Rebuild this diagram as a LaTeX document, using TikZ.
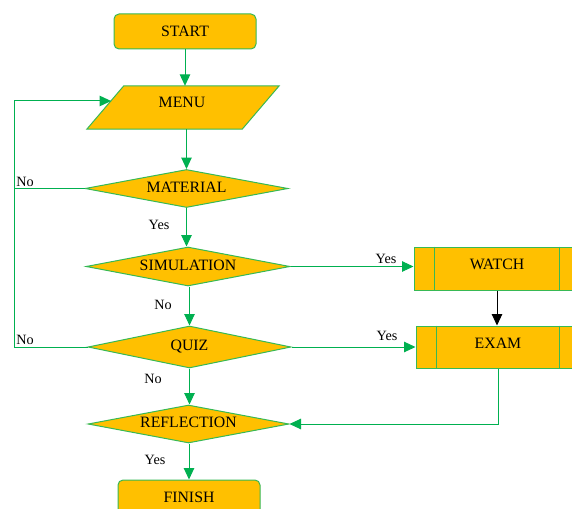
\documentclass[tikz,border=0pt]{standalone}
\usepackage{fontspec}
\setmainfont{Liberation Serif}
\usetikzlibrary{arrows.meta,shapes.geometric}
\definecolor{boxfill}{HTML}{FFC000}
\definecolor{edgecol}{RGB}{55,185,85}
\definecolor{flowcol}{HTML}{00B050}
\begin{document}
\begin{tikzpicture}[x=1pt,y=-1pt,
  shapeline/.style={draw=edgecol,fill=boxfill,line width=1pt},
  maintext/.style={font=\fontsize{15.8}{18}\selectfont},
  lbl/.style={font=\fontsize{14.2}{16}\selectfont,inner sep=0pt},
  term/.style={shapeline,maintext,rounded corners=5pt,minimum width=142pt,minimum height=35pt,inner sep=0pt},
  dec/.style={diamond,aspect=5.3,shapeline,maintext,inner sep=0pt,text height=10.5pt,text depth=3pt},
  proc/.style={shapeline,maintext,minimum width=166pt,minimum height=43pt,inner sep=0pt,text height=10.5pt,text depth=8pt},
  flowline/.style={draw=flowcol,line width=1pt},
  arr/.style={flowline,-{Triangle[length=11.5pt,width=10.5pt]}},
  blackarr/.style={draw=black,line width=1pt,-{Triangle[length=11.5pt,width=10.5pt]}}
]
\useasboundingbox (0,0) rectangle (572,508);
\clip (0,0) rectangle (572,508);

% nodes
\node[term] (start) at (185,31.5) {START};
\node[maintext,minimum width=155pt,minimum height=43pt,inner sep=0pt] (menubox) at (183,107.5) {};
\filldraw[shapeline] ([xshift=-18.5pt]menubox.south west) -- ([xshift=-18.5pt]menubox.south east)
  -- ([xshift=18.5pt]menubox.north east) -- ([xshift=18.5pt]menubox.north west) -- cycle;
\node[maintext,inner sep=0pt,text height=10.5pt,text depth=0pt] (menu) at (182,102.5) {MENU};
\coordinate (menuin) at (111.1,101);

\node[dec,minimum width=203pt,minimum height=38pt] (material) at (186.5,188.5) {MATERIAL};
\node[dec,minimum width=204pt,minimum height=39pt] (sim) at (188,266.5) {SIMULATION};
\node[dec,minimum width=203pt,minimum height=42pt] (quiz) at (189.5,347) {QUIZ};
\node[dec,minimum width=201pt,minimum height=38pt] (refl) at (188.5,424) {REFLECTION};
\node[term] (finish) at (189,497.5) {FINISH};

\node[proc] (watch) at (497,268.5) {WATCH};
\draw[draw=edgecol,line width=1pt] ([xshift=21pt]watch.north west) -- ([xshift=21pt]watch.south west);
\draw[draw=edgecol,line width=1pt] ([xshift=-21pt]watch.north east) -- ([xshift=-21pt]watch.south east);
\node[proc,minimum width=164pt,minimum height=42pt] (exam) at (498,347) {EXAM};
\draw[draw=edgecol,line width=1pt] ([xshift=21pt]exam.north west) -- ([xshift=21pt]exam.south west);
\draw[draw=edgecol,line width=1pt] ([xshift=-21pt]exam.north east) -- ([xshift=-21pt]exam.south east);

\coordinate (loopcorner) at (14,101);

% connectors
\draw[arr] (start.south) -- (start.south |- menubox.north);
\draw[arr] (material.north |- menubox.south) -- (material.north);
\draw[arr] (material.south) -- (material.south |- sim.north);
\draw[arr] (quiz.north |- sim.south) -- (quiz.north);
\draw[arr] (quiz.south) -- (quiz.south |- refl.north);
\draw[arr] (finish.north |- refl.south) -- (finish.north);
\draw[arr] (quiz.west) -| (loopcorner) -- (menuin);
\draw[flowline] (material.west) -- (material.west -| loopcorner);
\draw[arr] (sim.east) -- (sim.east -| watch.west);
\draw[arr] (quiz.east) -- (quiz.east -| exam.west);
\draw[blackarr] (watch.south) -- (watch.south |- exam.north);
\draw[arr] (exam.south) |- (refl.east);

% labels
\node[lbl] (lno1) at (25,182) {No};
\node[lbl] (lno2) at (25,340) {No};
\node[lbl] (lyes1) at (159,225) {Yes};
\node[lbl] (lno3) at (163,305) {No};
\node[lbl] (lno4) at (153,379) {No};
\node[lbl] (lyes2) at (155,460) {Yes};
\node[lbl] (lyes3) at (386,259) {Yes};
\node[lbl] (lyes4) at (387,336) {Yes};
\end{tikzpicture}
\end{document}
